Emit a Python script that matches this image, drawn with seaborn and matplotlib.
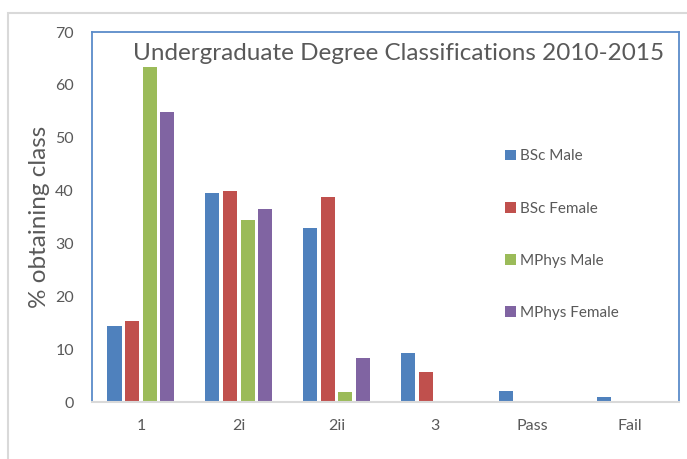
import matplotlib
matplotlib.use("Agg")
import matplotlib.pyplot as plt
import seaborn as sns
import pandas as pd
from matplotlib.patches import Rectangle

categories = ["1", "2i", "2ii", "3", "Pass", "Fail"]
series = ["BSc Male", "BSc Female", "MPhys Male", "MPhys Female"]
bsc_male = [14.4, 39.5, 33.0, 9.3, 2.0, 1.0]
bsc_female = [15.3, 39.9, 38.8, 5.7, 0.0, 0.0]
mphys_male = [63.3, 34.4, 1.9, 0.0, 0.0, 0.0]
mphys_female = [54.8, 36.5, 8.4, 0.0, 0.0, 0.0]
colors = ["#4F81BD", "#C0504D", "#9BBB59", "#8064A2"]
title = "Undergraduate Degree Classifications 2010-2015"
ylabel = "% obtaining class"

rows = []
for s, vals in zip(series, [bsc_male, bsc_female, mphys_male, mphys_female]):
    for c, v in zip(categories, vals):
        rows.append({"cls": c, "series": s, "value": v})
df = pd.DataFrame(rows)

sns.set_theme(style="white")
plt.rcParams["font.family"] = ["Lato", "DejaVu Sans"]

W, H = 687, 459
fig = plt.figure(figsize=(W / 100, H / 100), dpi=100)
ax = fig.add_axes([92 / W, 1 - 402 / H, (679 - 92) / W, (402 - 32) / H])

sns.barplot(data=df, x="cls", y="value", hue="series", order=categories,
            hue_order=series, palette=colors, width=0.72, gap=0.2, ax=ax,
            linewidth=0, saturation=1, legend=True)

ax.set_ylim(0, 70)
ax.set_xlim(-0.5, len(categories) - 0.5)
ax.set_yticks(range(0, 71, 10))
ax.tick_params(axis="both", length=0, colors="#595959", labelsize=11.5)
ax.tick_params(axis="y", pad=13)
ax.tick_params(axis="x", pad=12)
ax.set_xlabel("")
ax.set_ylabel(ylabel, fontsize=17.5, color="#595959", labelpad=4)

for side in ["left", "top", "right"]:
    ax.spines[side].set_color("#5B8BC9")
    ax.spines[side].set_linewidth(1.3)
ax.spines["bottom"].set_color("#D9D9D9")
ax.spines["bottom"].set_linewidth(1.5)

ax.text(0.523, 0.943, title, transform=ax.transAxes, ha="center", va="center",
        fontsize=17.5, color="#595959")

leg = ax.legend(loc="upper left", bbox_to_anchor=(0.68, 0.72), frameon=False,
                fontsize=11, handlelength=0.7, handleheight=0.7,
                handletextpad=0.3, labelspacing=2.5, labelcolor="#595959")

fig.patches.append(Rectangle((8 / W, -0.1), 1.2, (459 - 13) / H + 0.1,
                             transform=fig.transFigure, fill=False,
                             edgecolor="#D9D9D9", linewidth=1.5))

fig.savefig("out.png", dpi=100)
